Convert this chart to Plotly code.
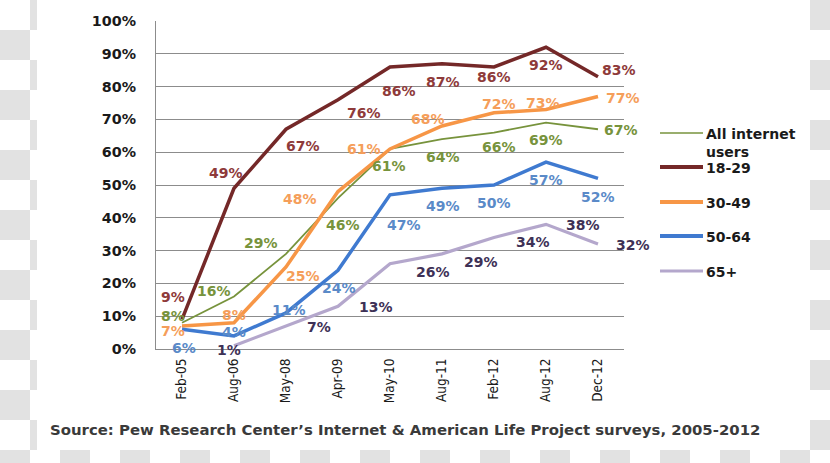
import plotly.graph_objects as go

# ---------------- data ----------------
categories = ["Feb-05", "Aug-06", "May-08", "Apr-09", "May-10", "Aug-11", "Feb-12", "Aug-12", "Dec-12"]
series_names = ["All internet users", "18-29", "30-49", "50-64", "65+"]
all_users = [8, 16, 29, 46, 61, 64, 66, 69, 67]
age_18_29 = [9, 49, 67, 76, 86, 87, 86, 92, 83]
age_30_49 = [7, 8, 25, 48, 61, 68, 72, 73, 77]
age_50_64 = [6, 4, 11, 24, 47, 49, 50, 57, 52]
age_65_plus = [None, 1, 7, 13, 26, 29, 34, 38, 32]
y_ticks = [0, 10, 20, 30, 40, 50, 60, 70, 80, 90, 100]
source_text = "Source: Pew Research Center\u2019s Internet & American Life Project surveys, 2005-2012"

# ---------------- styles ----------------
W, H = 830, 463
PL, PR, PT, PB = 156, 624, 21, 349  # plot area in pixels

line_colors = ["#77933C", "#742828", "#F79646", "#3F7AD0", "#B4A7CC"]
label_colors = ["#77933C", "#8E3A3A", "#F59E5A", "#5A8AC8", "#3E3156"]
line_widths = [1.8, 3.5, 3.5, 3.5, 3.2]
legend_widths = [1.5, 4, 4, 4, 3]

# label offsets (dx, dy) in screen pixels (dy down)
offsets = [
    [(-9, -7), (-20, -6), (-25, -11), (5, 27), (-1, 17), (1, 18), (5, 14), (0, 17), (23, 1)],
    [(-9, -22), (-8, -15), (17, 17), (26, 13), (9, 24), (1, 18), (0, 10), (0, 18), (21, -7)],
    [(-9, 5), (0, -8), (17, 9), (-38, 7), (-26, 0), (-14, -7), (5, -9), (-3, -7), (25, 2)],
    [(2, 19), (0, -4), (3, -3), (1, 18), (14, 30), (1, 18), (0, 18), (0, 18), (0, 19)],
    [None, (-5, 4), (33, 1), (38, 1), (43, 8), (39, 8), (39, 5), (37, 1), (35, 1)],
]

series_values = [all_users, age_18_29, age_30_49, age_50_64, age_65_plus]


def px2x(px):
    return (px - PL) / (PR - PL)


def px2y(py):
    return (PB - py) / (PB - PT)


fig = go.Figure()
for i, (name, vals) in enumerate(zip(series_names, series_values)):
    fig.add_trace(go.Scatter(
        x=categories, y=vals, name=name, mode="lines",
        line=dict(color=line_colors[i], width=line_widths[i]),
        connectgaps=False, showlegend=False, hoverinfo="x+y+name",
    ))

annotations = []
label_font = "DejaVu Sans"
for i, vals in enumerate(series_values):
    for j, v in enumerate(vals):
        if v is None:
            continue
        dx, dy = offsets[i][j]
        annotations.append(dict(
            x=categories[j], y=v, xref="x", yref="y", text=f"<b>{v}%</b>",
            showarrow=False, xanchor="center", yanchor="middle",
            xshift=dx, yshift=-dy,
            font=dict(family=label_font, size=14, color=label_colors[i]),
        ))

# legend (manual)
legend_text_y = [133, 167, 202, 236, 271]
legend_labels = ["All internet<br>users", "18-29", "30-49", "50-64", "65+"]
shapes = []
for i in range(len(series_names)):
    yy = legend_text_y[i]
    shapes.append(dict(type="line", xref="paper", yref="paper",
                       x0=px2x(660), x1=px2x(703), y0=px2y(yy), y1=px2y(yy),
                       line=dict(color=line_colors[i], width=legend_widths[i])))
    annotations.append(dict(
        x=px2x(704), y=px2y(yy - 9), xref="paper", yref="paper",
        text=f"<b>{legend_labels[i]}</b>", showarrow=False,
        xanchor="left", yanchor="top", align="left",
        font=dict(family="DejaVu Sans", size=14, color="#1a1a1a"),
    ))

annotations.append(dict(
    x=px2x(48), y=px2y(430), xref="paper", yref="paper",
    text=f"<b>{source_text}</b>", showarrow=False, xanchor="left", yanchor="middle",
    font=dict(family="DejaVu Sans", size=14.9, color="#3a3a3a"),
))

# transparency checkerboard at the image edges
SQ = 30
gray = "#e2e2e2"
regions = [(0, 37, 0, 463), (810, 830, 0, 463), (37, 810, 450, 463)]
for (rx0, rx1, ry0, ry1) in regions:
    for col in range(0, W // SQ + 1):
        for row in range(0, H // SQ + 1):
            if (col + row) % 2 == 0:
                continue
            x0, x1 = max(col * SQ, rx0), min((col + 1) * SQ, rx1)
            y0, y1 = max(row * SQ, ry0), min((row + 1) * SQ, ry1)
            if x0 >= x1 or y0 >= y1:
                continue
            shapes.append(dict(type="rect", xref="paper", yref="paper",
                               x0=px2x(x0), x1=px2x(x1), y0=px2y(y1), y1=px2y(y0),
                               fillcolor=gray, line=dict(width=0), layer="below"))

fig.update_layout(
    width=W, height=H,
    margin=dict(l=PL, r=W - PR, t=PT, b=H - PB, pad=0),
    paper_bgcolor="white", plot_bgcolor="white",
    showlegend=False,
    shapes=shapes, annotations=annotations,
    xaxis=dict(
        type="category", range=[-0.5, len(categories) - 0.5],
        tickangle=-90, showgrid=False, showline=True, linecolor="#8c8c8c", linewidth=1.2,
        ticks="", ticklabelstandoff=3,
        tickfont=dict(family="Liberation Sans Narrow, DejaVu Sans Condensed, Liberation Sans", size=13.5, color="#1a1a1a"),
        fixedrange=True,
    ),
    yaxis=dict(
        range=[0, 100], tickvals=y_ticks, ticktext=[f"<b>{t}%</b>" for t in y_ticks],
        showgrid=True, gridcolor="#8c8c8c", gridwidth=1.2,
        showline=True, linecolor="#8c8c8c", linewidth=1.2,
        ticks="", ticklabelstandoff=16, zeroline=False,
        tickfont=dict(family="DejaVu Sans", size=14.3, color="#1a1a1a"),
        fixedrange=True,
    ),
)

fig.write_html("out.html", config={"displayModeBar": False},
               post_script="document.body.style.margin='0';document.body.style.overflow='hidden';")
